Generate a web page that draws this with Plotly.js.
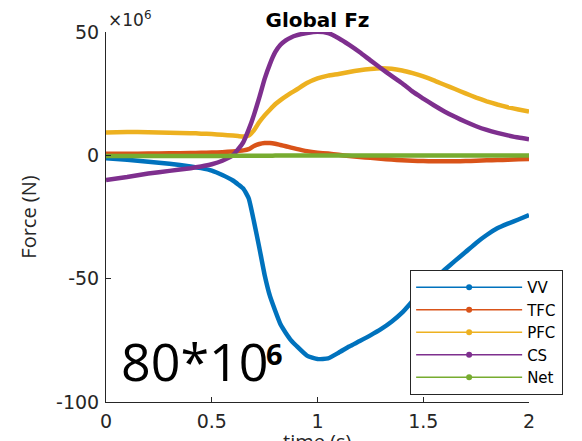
<!DOCTYPE html>
<html>
<head>
<meta charset="utf-8">
<script src="https://cdn.plot.ly/plotly-3.0.1.min.js"></script>
<style>html,body{margin:0;padding:0;background:#fff;}#chart{width:582px;height:441px;}</style>
</head>
<body>
<div id="chart"></div>
<script>
// time (s)
const time = [0,0.1,0.2,0.3,0.4,0.45,0.5,0.55,0.6,0.625,0.65,0.675,0.7,0.725,0.75,0.775,0.8,0.825,0.85,0.875,0.9,0.95,1.0,1.05,1.1,1.15,1.2,1.25,1.3,1.35,1.4,1.45,1.5,1.55,1.6,1.65,1.7,1.75,1.8,1.85,1.9,1.95,2.0];
// Force values in units of 10^6 N
const VV  = [-1.2,-1.8,-2.6,-3.4,-4.5,-5.2,-6.2,-8.0,-10.2,-11.8,-13.6,-17.5,-27,-37.5,-48.5,-57,-63,-68.5,-72,-75,-77.2,-81.2,-82.6,-82.3,-80,-77.5,-75.3,-73,-70.5,-67.5,-63.8,-59,-54.5,-50.5,-46.5,-42.8,-39.2,-35.5,-32.3,-29.6,-27.7,-26,-24.2];
const TFC = [0.6,0.6,0.7,0.8,0.9,1.0,1.1,1.3,1.6,1.8,2.0,2.5,3.8,4.6,5.0,5.0,4.7,4.2,3.7,3.1,2.6,1.7,1.1,0.7,0.2,-0.3,-0.7,-1.0,-1.4,-1.7,-2.0,-2.2,-2.3,-2.4,-2.4,-2.4,-2.3,-2.2,-2.0,-1.9,-1.8,-1.6,-1.5];
const PFC = [9.3,9.5,9.4,9.2,9.0,8.8,8.6,8.3,8.0,7.8,7.6,8.0,10.2,13.5,16.2,18.5,20.7,22.4,23.9,25.3,26.6,29.3,31.2,32.3,33,33.8,34.5,35,35.3,35.1,34.4,33.3,32,30.4,28.6,26.9,25.1,23.4,21.9,20.6,19.5,18.6,17.8];
const CS  = [-10,-8.8,-7.4,-6.3,-5.2,-4.5,-3.6,-2.2,0,2.5,5.5,10.5,16.5,23.5,31,37,41.8,44.8,46.6,47.8,48.6,49.6,50.1,49.6,47.5,44.8,41.8,38.5,35.3,32.2,29.2,25.8,23,20.3,17.8,15.6,13.6,11.8,10.3,9.1,8.1,7.2,6.5];
const Net = [-0.3,-0.3,-0.3,-0.3,-0.3,-0.3,-0.3,-0.3,-0.2,-0.2,-0.2,-0.2,-0.2,-0.2,-0.2,-0.2,-0.1,-0.1,-0.1,-0.1,-0.1,-0.1,-0.1,-0.1,-0.1,-0.1,-0.1,-0.1,-0.1,-0.1,-0.1,-0.1,-0.1,-0.1,-0.1,-0.1,-0.1,-0.1,-0.1,-0.1,-0.1,-0.1,-0.1];

const names = ["VV","TFC","PFC","CS","Net"];
const series = [VV, TFC, PFC, CS, Net];
const colors = ["#0072BD","#D95319","#EDB120","#7E2F8E","#77AC30"];

const traces = [];
series.forEach((ys, i) => {
  traces.push({
    x: time, y: ys, type: "scatter", mode: "lines", name: names[i],
    line: {color: colors[i], width: 4.5, shape: "spline", smoothing: 0.4},
    showlegend: false, hoverinfo: "x+y"
  });
});
series.forEach((ys, i) => {
  traces.push({
    x: [null], y: [null], type: "scatter", mode: "lines+markers", name: names[i],
    line: {color: colors[i], width: 1.5}, marker: {color: colors[i], size: 6},
    showlegend: true
  });
});

const axisCommon = {
  showline: true, linecolor: "#262626", linewidth: 1, mirror: false,
  ticks: "inside", ticklen: 5, tickcolor: "#262626", tickwidth: 1,
  showgrid: false, zeroline: false,
  tickfont: {family: "DejaVu Sans", size: 19, color: "#262626"}
};

const layout = {
  width: 582, height: 441,
  margin: {l: 106, r: 53, t: 32, b: 39},
  paper_bgcolor: "#fff", plot_bgcolor: "#fff",
  title: {text: "<b>Global Fz</b>", font: {family: "DejaVu Sans", size: 20, color: "#000"},
          x: 0.5, xref: "paper", xanchor: "center", y: 0.955, yref: "container", yanchor: "middle"},
  xaxis: Object.assign({}, axisCommon, {
    range: [0, 2], tickvals: [0, 0.5, 1, 1.5, 2], ticktext: ["0","0.5","1","1.5","2"],
    ticklabelstandoff: 2,
    automargin: false
  }),
  yaxis: Object.assign({}, axisCommon, {
    range: [-100, 50], tickvals: [-100, -50, 0, 50], ticktext: ["-100","-50","0","50"],
    ticklabelstandoff: 2,
    title: {text: "Force (N)", font: {family: "Open Sans", size: 20, color: "#262626"}, standoff: 14},
    automargin: false
  }),
  legend: {
    x: 0.719, y: 0.357, xanchor: "left", yanchor: "top",
    bgcolor: "#fff", bordercolor: "#262626", borderwidth: 1,
    font: {family: "DejaVu Sans", size: 15, color: "#000"},
    itemwidth: 106, tracegroupgap: 0
  },
  annotations: [
    {text: "time (s)", xref: "paper", yref: "paper", x: 0.5, y: -0.065,
     xanchor: "center", yanchor: "top", showarrow: false,
     font: {family: "Open Sans", size: 20, color: "#262626"}},
    {text: "×10<sup>6</sup>", xref: "paper", yref: "paper", x: 0.0, y: 1.0,
     xanchor: "left", yanchor: "bottom", showarrow: false,
     font: {family: "DejaVu Sans", size: 17, color: "#262626"}},
    {text: "80*10", xref: "paper", yref: "paper", x: 0.03, y: 0.011,
     xanchor: "left", yanchor: "bottom", showarrow: false,
     font: {family: "Open Sans", size: 52, color: "#000"}},
    {text: "<b>6</b>", xref: "paper", yref: "paper", x: 0.374, y: 0.13,
     xanchor: "left", yanchor: "middle", showarrow: false,
     font: {family: "Open Sans", size: 29, color: "#000"}}
  ],
  showlegend: true
};

Plotly.newPlot("chart", traces, layout, {displayModeBar: false, responsive: false});
</script>
</body>
</html>
